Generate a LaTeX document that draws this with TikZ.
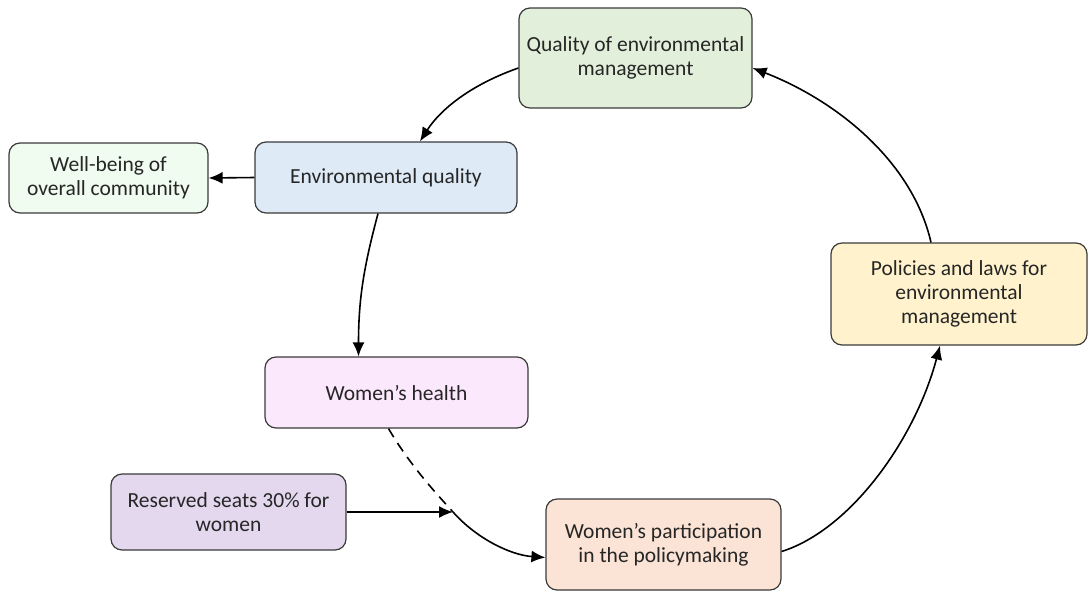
\documentclass[tikz,border=0pt]{standalone}
\usepackage{fontspec}
\setmainfont{Carlito}
\usetikzlibrary{arrows.meta}
\definecolor{bordc}{HTML}{3A3A3A}
\definecolor{cq}{HTML}{E2EFDA}
\definecolor{ce}{HTML}{DEEAF6}
\definecolor{cw}{HTML}{EFFCEF}
\definecolor{ch}{HTML}{FCE8FC}
\definecolor{cr}{HTML}{E3D8EE}
\definecolor{cp}{HTML}{FBE4D5}
\definecolor{cl}{HTML}{FFF2CC}
\tikzset{
  box/.style={draw=bordc, line width=1.2pt, rounded corners=11pt, align=center,
    font=\fontsize{21.5}{24}\selectfont, inner sep=0pt, text=black!85},
  lk/.style={line width=1.6pt},
  arr/.style={lk, -{Latex[length=14pt,width=12pt]}},
}
\begin{document}
\begin{tikzpicture}[x=1pt,y=1pt]
\useasboundingbox (0,0) rectangle (1089,-603);
\node[box, fill=cq, minimum width=233pt, minimum height=100pt] (q) at (635.5,-58) {Quality of environmental\\management};
\node[box, fill=ce, minimum width=262pt, minimum height=71pt] (e) at (386,-177.5) {Environmental quality};
\node[box, fill=cw, minimum width=199pt, minimum height=70pt] (w) at (108.5,-178) {Well-being of\\overall community};
\node[box, fill=ch, minimum width=263pt, minimum height=71pt] (h) at (396.5,-392.5) {Women’s health};
\node[box, fill=cr, minimum width=235pt, minimum height=76pt] (r) at (228.5,-512) {Reserved seats 30\% for\\women};
\node[box, fill=cp, minimum width=235pt, minimum height=91pt] (p) at (663.5,-544.5) {Women’s participation\\in the policymaking};
\node[box, fill=cl, minimum width=256pt, minimum height=102pt] (l) at (959,-294) {Policies and laws for\\environmental\\management};
\coordinate (m) at (453,-512);
% arrows
\draw[arr] ([yshift=-10pt]q.west) .. controls (470,-85) and (440,-110) .. ([xshift=34pt]e.north);
\draw[arr] (e.west) -- (w.east);
\draw[arr] ([xshift=-8pt]e.south) to[out=255,in=90] ([xshift=-38pt]h.north);
\draw[lk, dash pattern=on 10pt off 7pt] ([xshift=-8pt]h.south) .. controls (410,-465) and (434,-491) .. (m);
\draw[arr] (m) .. controls (476,-538) and (510,-555) .. ([yshift=-13pt]p.west);
\draw[arr] (r.east) -- (m);
\draw[arr] ([yshift=-7pt]p.east) .. controls (850,-530) and (915,-440) .. ([xshift=-19pt]l.south);
\draw[arr] ([xshift=-28pt]l.north) .. controls (912,-160) and (835,-100) .. ([yshift=-10pt]q.east);
\end{tikzpicture}
\end{document}
